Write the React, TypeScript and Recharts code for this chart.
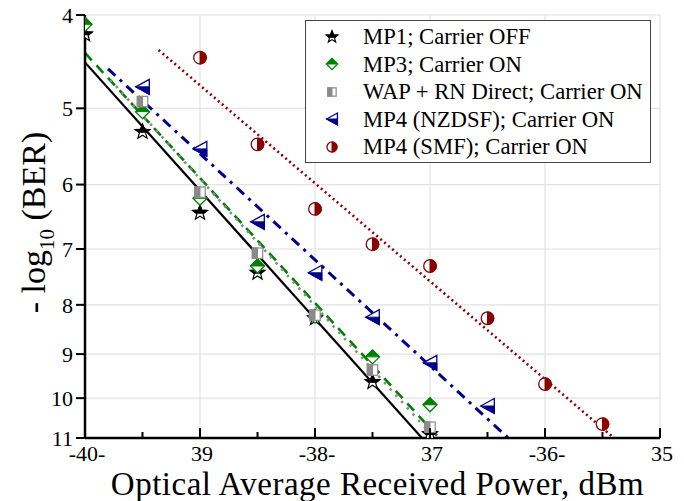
import React from 'react';
import {
  ComposedChart,
  Line,
  Scatter,
  XAxis,
  YAxis,
  CartesianGrid,
  ReferenceLine,
  Legend,
} from 'recharts';

const FONT = '"Liberation Serif", "Times New Roman", serif';

// ---- axis ticks ----
const xTicks = [-40, -39.5, -39, -38.5, -38, -37.5, -37, -36.5, -36, -35.5, -35];
const xMajor = [-40, -39, -38, -37, -36, -35];
const xMajorLabels = ['-40-', '39', '-38-', '37', '-36-', '35'];
const yTicks = [4, 5, 6, 7, 8, 9, 10, 11];

const seriesNames = [
  'MP1; Carrier OFF',
  'MP3; Carrier ON',
  'WAP + RN Direct; Carrier ON',
  'MP4 (NZDSF); Carrier ON',
  'MP4 (SMF); Carrier ON',
];

// ---- measured points ----
const mp1X = [-40, -39.5, -39, -38.5, -38, -37.5, -37];
const mp1Y = [4.19, 5.29, 6.42, 7.41, 8.26, 9.62, 10.9];

const mp3X = [-40, -39.5, -39, -38.5, -38, -37.5, -37];
const mp3Y = [4.09, 5.04, 6.2, 7.29, 8.22, 9.06, 10.16];

const wapX = [-39.5, -39, -38.5, -38, -37.5, -37];
const wapY = [4.92, 6.11, 7.07, 8.2, 9.35, 10.72];

const nzX = [-39.5, -39, -38.5, -38, -37.5, -37, -36.5];
const nzY = [4.75, 5.51, 6.56, 7.41, 8.24, 9.19, 10.19];

const smfX = [-39, -38.5, -38, -37.5, -37, -36.5, -36, -35.5];
const smfY = [4.43, 5.45, 6.36, 6.92, 7.29, 8.26, 9.67, 10.64];

// ---- linear fit lines (end points) ----
const mp1FitX = [-40, -37.07];
const mp1FitY = [4.48, 11];
const mp3FitX = [-40, -36.92];
const mp3FitY = [4.38, 11];
const wapFitX = [-39.78, -36.96];
const wapFitY = [4.67, 11];
const nzFitX = [-39.8, -36.32];
const nzFitY = [4.55, 11];
const smfFitX = [-39.36, -35.4];
const smfFitY = [4.35, 11];

const zip = (xs: number[], ys: number[]) => xs.map((x, i) => ({ x, y: ys[i] }));

const C_BLACK = '#000000';
const C_GREEN = '#008000';
const C_GRAY = '#8a8a8a';
const C_NAVY = '#00008b';
const C_RED = '#8b0000';

type P = [number, number];
const toStr = (pts: P[]) => pts.map((p) => `${p[0]},${p[1]}`).join(' ');
function clipAbove(pts: P[], yc: number): P[] {
  const out: P[] = [];
  for (let i = 0; i < pts.length; i++) {
    const a = pts[i];
    const b = pts[(i + 1) % pts.length];
    const ina = a[1] <= yc;
    const inb = b[1] <= yc;
    if (ina) out.push(a);
    if (ina !== inb) {
      const t = (yc - a[1]) / (b[1] - a[1]);
      out.push([a[0] + t * (b[0] - a[0]), yc]);
    }
  }
  return out;
}

const StarMarker = ({ cx, cy, s = 1 }: { cx: number; cy: number; s?: number }) => {
  const R = 7.8 * s;
  const r = R * 0.42;
  const pts: P[] = [];
  for (let k = 0; k < 10; k++) {
    const ang = -Math.PI / 2 + (k * Math.PI) / 5;
    const rad = k % 2 === 0 ? R : r;
    pts.push([cx + rad * Math.cos(ang), cy + rad * Math.sin(ang)]);
  }
  const top = clipAbove(pts, cy + 0.05 * R);
  return (
    <g>
      <polygon points={toStr(pts)} fill="#fff" stroke={C_BLACK} strokeWidth={1.2} />
      <polygon points={toStr(top)} fill={C_BLACK} stroke={C_BLACK} strokeWidth={1} />
    </g>
  );
};

const DiamondMarker = ({ cx, cy, s = 1 }: { cx: number; cy: number; s?: number }) => {
  const r = 7 * s;
  return (
    <g>
      <polygon
        points={toStr([[cx, cy - r], [cx + r, cy], [cx, cy + r], [cx - r, cy]])}
        fill="#fff"
        stroke={C_GREEN}
        strokeWidth={1.3}
      />
      <polygon points={toStr([[cx - r, cy], [cx, cy - r], [cx + r, cy]])} fill={C_GREEN} stroke={C_GREEN} strokeWidth={1} />
    </g>
  );
};

const SquareMarker = ({ cx, cy, s = 1 }: { cx: number; cy: number; s?: number }) => {
  const a = 5.2 * s;
  return (
    <g>
      <rect x={cx - a} y={cy - a} width={2 * a} height={2 * a} fill="#fff" stroke={C_GRAY} strokeWidth={1.2} />
      <rect x={cx - a} y={cy - a} width={a} height={2 * a} fill={C_GRAY} stroke={C_GRAY} strokeWidth={1} />
    </g>
  );
};

const TriangleMarker = ({ cx, cy, s = 1 }: { cx: number; cy: number; s?: number }) => {
  const w = 6.8 * s;
  const h = 7.5 * s;
  return (
    <g>
      <polygon
        points={toStr([[cx - w, cy], [cx + w, cy - h], [cx + w, cy + h]])}
        fill="#fff"
        stroke={C_NAVY}
        strokeWidth={1.3}
      />
      <polygon points={toStr([[cx - w, cy], [cx + w, cy], [cx + w, cy + h]])} fill={C_NAVY} stroke={C_NAVY} strokeWidth={1} />
    </g>
  );
};

const CircleMarker = ({ cx, cy, s = 1 }: { cx: number; cy: number; s?: number }) => {
  const r = 6.3 * s;
  return (
    <g>
      <circle cx={cx} cy={cy} r={r} fill="#fff" stroke={C_RED} strokeWidth={1.3} />
      <path d={`M${cx},${cy - r} A${r},${r} 0 0 1 ${cx},${cy + r} Z`} fill={C_RED} stroke={C_RED} strokeWidth={1} />
    </g>
  );
};

const markers = [StarMarker, DiamondMarker, SquareMarker, TriangleMarker, CircleMarker];

const XTick = (props: any) => {
  const { x, y, payload } = props;
  const v = payload.value;
  const i = xMajor.indexOf(v);
  const major = i >= 0;
  return (
    <g>
      <line x1={x} x2={x} y1={y} y2={y - (major ? 10 : 6)} stroke="#000" strokeWidth={2} />
      {major && (
        <text x={x + 2} y={y + 22.5} textAnchor="middle" fontSize={22} fontFamily={FONT} fill="#000">
          {xMajorLabels[i]}
        </text>
      )}
    </g>
  );
};

const XLabel = (props: any) => {
  const vb = props.viewBox || { x: 85, y: 438, width: 575, height: 63 };
  return (
    <text
      x={vb.x + vb.width / 2 + 5}
      y={vb.y + 57}
      textAnchor="middle"
      fontSize={33}
      letterSpacing={0.5}
      fontFamily={FONT}
      fill="#000"
    >
      Optical Average Received Power, dBm
    </text>
  );
};

const YLabel = (props: any) => {
  const vb = props.viewBox || { x: 0, y: 15, width: 85, height: 423 };
  const x = vb.x + 45;
  const y = vb.y + vb.height / 2 - 4;
  return (
    <text
      transform={`rotate(-90 ${x} ${y})`}
      x={x}
      y={y}
      textAnchor="middle"
      fontSize={34}
      fontFamily={FONT}
      fill="#000"
    >
      {'- log'}
      <tspan fontSize={21} dy={9}>
        10
      </tspan>
      <tspan dy={-9}>{' (BER)'}</tspan>
    </text>
  );
};

const LegendBox = () => (
  <div
    style={{
      width: 346,
      height: 143,
      boxSizing: 'border-box',
      border: '1.5px solid #444',
      background: '#fff',
      paddingTop: 2,
    }}
  >
    {seriesNames.map((name, i) => {
      const M = markers[i];
      return (
        <div key={name} style={{ display: 'flex', alignItems: 'center', height: 27.5 }}>
          <svg width={20} height={20} style={{ marginLeft: 16, marginRight: 21, flex: 'none' }}>
            <M cx={10} cy={10} s={0.8} />
          </svg>
          <span
            style={{
              fontFamily: FONT,
              fontSize: 22.7,
              lineHeight: '27.5px',
              color: '#000',
              whiteSpace: 'nowrap',
            }}
          >
            {name}
          </span>
        </div>
      );
    })}
  </div>
);

const pointSets = [zip(mp1X, mp1Y), zip(mp3X, mp3Y), zip(wapX, wapY), zip(nzX, nzY), zip(smfX, smfY)];
const fitSets = [
  zip(mp1FitX, mp1FitY),
  zip(mp3FitX, mp3FitY),
  zip(wapFitX, wapFitY),
  zip(nzFitX, nzFitY),
  zip(smfFitX, smfFitY),
];
const fitStyles = [
  { stroke: C_BLACK, strokeWidth: 2.2, dash: undefined as string | undefined },
  { stroke: C_GREEN, strokeWidth: 2.6, dash: '10 7' },
  { stroke: C_GRAY, strokeWidth: 2.6, dash: '2.5 6' },
  { stroke: C_NAVY, strokeWidth: 3, dash: '10 6 3 6' },
  { stroke: C_RED, strokeWidth: 2.6, dash: '2 3.2' },
];

export default function App() {
  return (
    <div style={{ position: 'absolute', left: 0, top: 0, width: 684, height: 501, background: '#fff' }}>
      <ComposedChart width={684} height={501} margin={{ top: 15, right: 24, left: 0, bottom: 0 }}>
        <CartesianGrid vertical={false} stroke="#e2e2e2" strokeWidth={1.2} />
        {xMajor.slice(1).map((v) => (
          <ReferenceLine key={v} x={v} stroke="#e2e2e2" strokeWidth={1.2} />
        ))}
        <XAxis
          dataKey="x"
          type="number"
          domain={[-40, -35]}
          ticks={xTicks}
          interval={0}
          allowDataOverflow
          height={63}
          tickSize={0}
          tickMargin={0}
          tickLine={false}
          tick={<XTick />}
          axisLine={{ stroke: '#000', strokeWidth: 2.5 }}
          label={<XLabel />}
        />
        <YAxis
          dataKey="y"
          type="number"
          scale="log"
          domain={[4, 11]}
          ticks={yTicks}
          interval={0}
          reversed
          allowDataOverflow
          width={85}
          tickSize={9}
          tickMargin={3}
          tick={{ fontSize: 22, fontFamily: FONT, fill: '#000' }}
          tickLine={{ stroke: '#000', strokeWidth: 2 }}
          axisLine={{ stroke: '#000', strokeWidth: 2.5 }}
          label={<YLabel />}
        />
        {fitSets.map((d, i) => (
          <Line
            key={'fit' + i}
            data={d}
            dataKey="y"
            type="linear"
            stroke={fitStyles[i].stroke}
            strokeWidth={fitStyles[i].strokeWidth}
            strokeDasharray={fitStyles[i].dash}
            dot={false}
            activeDot={false}
            legendType="none"
            isAnimationActive={false}
          />
        ))}
        {pointSets.map((d, i) => {
          const M = markers[i];
          return (
            <Scatter
              key={'pts' + i}
              name={seriesNames[i]}
              data={d}
              dataKey="y"
              isAnimationActive={false}
              shape={(p: any) => <M cx={p.cx} cy={p.cy} />}
            />
          );
        })}
        <Legend
          layout="horizontal"
          verticalAlign="middle"
          align="center"
          content={<LegendBox />}
          wrapperStyle={{ position: 'absolute', left: 305, top: 20, width: 346, height: 143 }}
        />
      </ComposedChart>
    </div>
  );
}
